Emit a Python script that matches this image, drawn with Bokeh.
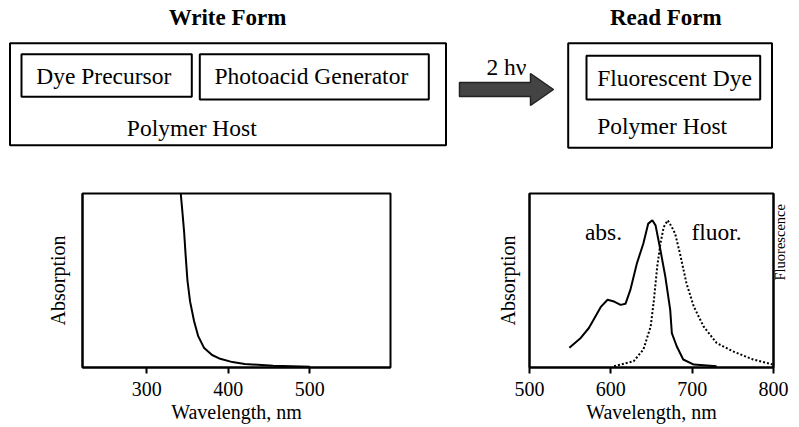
import math
from bokeh.plotting import figure
from bokeh.models import Range1d, Label, FixedTicker, LinearAxis
from bokeh.layouts import column, row
from bokeh.embed import file_html
from bokeh.resources import INLINE
from bokeh.core.properties import value

SERIF = "Liberation Serif"

# ---------------- data ----------------
# write form: dye precursor absorption
write_wl = [341.0, 343.5, 345.7, 347.5, 349.8, 353.0, 357.9, 363.0, 370.0, 380.0,
            390.0, 405.0, 420.0, 455.0, 500.0]
write_abs = [1.03, 0.90, 0.78, 0.65, 0.50, 0.38, 0.267, 0.18, 0.114, 0.072,
             0.050, 0.031, 0.020, 0.010, 0.005]
write_ticks = [300, 400, 500]

# read form: fluorescent dye absorption (solid) and fluorescence (dotted)
read_abs_wl = [549, 563, 573, 588, 596, 604, 612, 618, 624, 632, 640, 646, 651,
               655, 661, 667, 673, 675, 681, 689, 702, 730]
read_abs = [0.113, 0.17, 0.227, 0.35, 0.389, 0.379, 0.36, 0.366, 0.446, 0.598,
            0.713, 0.827, 0.846, 0.817, 0.674, 0.522, 0.331, 0.198, 0.122, 0.046,
            0.017, 0.007]
read_fl_wl = [604, 628, 640, 649, 653, 657, 661, 665, 670, 675, 679, 685, 693,
              702, 714, 730, 750, 775, 799]
read_fl = [0.007, 0.036, 0.103, 0.236, 0.389, 0.579, 0.713, 0.807, 0.846, 0.807,
           0.77, 0.655, 0.484, 0.35, 0.236, 0.141, 0.093, 0.046, 0.017]
read_ticks = [500, 600, 700, 800]

# ---------------- top diagram (pixel coordinates of the picture) ----------------
box_left = [9.5, 21, 199.3, 567.7, 586]
box_right = [445.5, 191.3, 428.3, 771.5, 759.7]
box_top = [42.7, 53.7, 53.7, 42.7, 55.3]
box_bottom = [144.7, 96.3, 99, 147.3, 99]

label_text = ["Dye Precursor", "Photoacid Generator", "Polymer Host", "Fluorescent Dye", "2 h\u03bd"]
label_x = [103.3, 310.8, 191.3, 674, 506]
label_y = [75.6, 75.6, 127.1, 77.1, 66.6]

title_text = ["Write Form", "Read Form"]
title_x = [227, 665.3]
title_y = [16.7, 16.7]

arrow_x = [459, 530, 530, 553, 530, 530, 459]
arrow_y = [82, 82, 73, 89, 105, 96, 96]

top = figure(width=799, height=178, x_range=Range1d(0, 799), y_range=Range1d(178, 0),
             output_backend="svg", toolbar_location=None, x_axis_type=None, y_axis_type=None,
             min_border_left=0, min_border_right=0, min_border_top=0, min_border_bottom=0)
top.outline_line_color = None
top.quad(left=box_left, right=box_right, top=box_top, bottom=box_bottom,
         fill_color=None, line_color="black", line_width=2)
top.text(x=label_x, y=label_y, text=label_text, text_font=value(SERIF),
         text_font_size="23.5px", text_align="center", text_baseline="middle",
         text_color="black")
top.text(x=[596.7], y=[125.1], text=["Polymer Host"], text_font=value(SERIF),
         text_font_size="23.5px", text_align="left", text_baseline="middle",
         text_color="black")
top.text(x=title_x, y=title_y, text=title_text, text_font=value(SERIF),
         text_font_size="23px", text_font_style="bold", text_align="center",
         text_baseline="middle", text_color="black")
top.patch(arrow_x, arrow_y, fill_color="#444444", line_color="#222222", line_width=1.5)


def style_label_axis(ay, label, size, standoff):
    ay.ticker = FixedTicker(ticks=[])
    ay.major_tick_out = 0
    ay.major_tick_in = 0
    ay.minor_tick_out = 0
    ay.minor_tick_in = 0
    ay.major_label_standoff = 0
    ay.axis_line_width = 2
    ay.axis_label = label
    ay.axis_label_text_font = SERIF
    ay.axis_label_text_font_size = size
    ay.axis_label_text_font_style = "normal"
    ay.axis_label_text_color = "black"
    ay.axis_label_standoff = standoff


def style_chart(p, ticks, ylabel_standoff):
    p.grid.visible = False
    p.outline_line_color = "black"
    p.outline_line_width = 2
    p.outline_line_alpha = 1
    ax = p.xaxis[0]
    ax.ticker = FixedTicker(ticks=ticks)
    ax.major_tick_out = 6
    ax.major_tick_in = 0
    ax.minor_tick_out = 0
    ax.minor_tick_in = 0
    ax.major_tick_line_width = 2
    ax.axis_line_width = 2
    ax.major_label_text_font = SERIF
    ax.major_label_text_font_size = "20px"
    ax.major_label_text_color = "black"
    ax.major_label_standoff = 8
    ax.axis_label = "Wavelength, nm"
    ax.axis_label_text_font = SERIF
    ax.axis_label_text_font_size = "20px"
    ax.axis_label_text_font_style = "normal"
    ax.axis_label_text_color = "black"
    ax.axis_label_standoff = 2
    style_label_axis(p.yaxis[0], "Absorption", "20px", ylabel_standoff)


left = figure(width=450, height=249, x_range=Range1d(221, 599), y_range=Range1d(0, 1),
              output_backend="svg", toolbar_location=None,
              min_border_left=82, min_border_right=60, min_border_top=14, min_border_bottom=60)
style_chart(left, write_ticks, 14)
left.line(write_wl, write_abs, line_color="black", line_width=2)

right = figure(width=349, height=249, x_range=Range1d(500, 800), y_range=Range1d(0, 1),
               output_backend="svg", toolbar_location=None,
               min_border_left=79, min_border_right=26, min_border_top=15, min_border_bottom=59)
style_chart(right, read_ticks, 11)
right.extra_y_ranges = {"fluor": Range1d(0, 1)}
fl_axis = LinearAxis(y_range_name="fluor")
style_label_axis(fl_axis, "Fluorescence", "14.5px", 6)
try:
    fl_axis.axis_label_orientation = math.pi / 2
except Exception:
    pass
right.add_layout(fl_axis, "right")
right.line(read_abs_wl, read_abs, line_color="black", line_width=2)
right.line(read_fl_wl, read_fl, line_color="black", line_width=2, line_dash="2 2",
           y_range_name="fluor")
right.add_layout(Label(x=591, y=0.777, text="abs.", text_font=SERIF, text_font_size="23.5px",
                       text_align="center", text_baseline="middle", text_color="black"))
right.add_layout(Label(x=730, y=0.777, text="fluor.", text_font=SERIF, text_font_size="23.5px",
                       text_align="center", text_baseline="middle", text_color="black"))

layout = column(top, row(left, right))
open("out.html", "w").write(file_html(layout, INLINE))
